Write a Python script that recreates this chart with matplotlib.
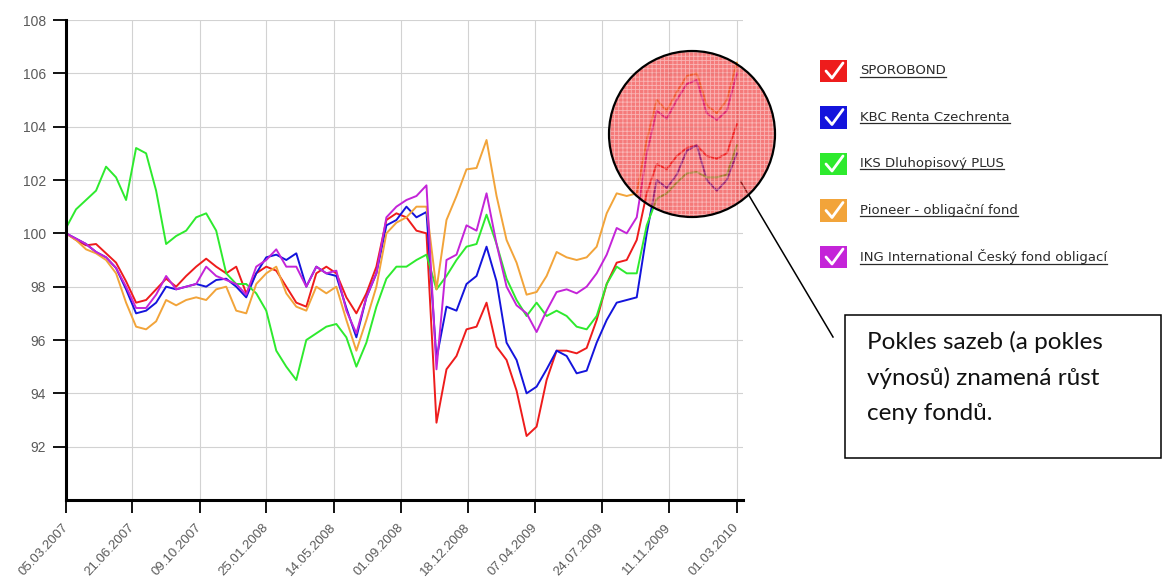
"""
Fund price index chart (5 bond funds) with highlighted circle and a note box
"""

import matplotlib
matplotlib.use("Agg")
import matplotlib.pyplot as plt
import pandas as pd
from matplotlib.patches import Ellipse, Rectangle
from matplotlib.lines import Line2D

# x tick dates as shown on the axis
tick_labels = ["05.03.2007", "21.06.2007", "09.10.2007", "25.01.2008", "14.05.2008",
               "01.09.2008", "18.12.2008", "07.04.2009", "24.07.2009", "11.11.2009",
               "01.03.2010"]

fund_names = ["SPOROBOND", "KBC Renta Czechrenta", "IKS Dluhopisový PLUS",
              "Pioneer - obligační fond", "ING International Český fond obligací"]
fund_colors = ["#ee1c1c", "#1414dc", "#2eea2e", "#f2a43a", "#c424d8"]

sporobond = [100.0, 99.75, 99.55, 99.6, 99.25, 98.9, 98.2, 97.4, 97.5, 97.9,
             98.3, 98.0, 98.4, 98.75, 99.05, 98.75, 98.5, 98.75, 97.75, 98.5,
             98.75, 98.6, 98.0, 97.4, 97.25, 98.5, 98.75, 98.5, 97.6, 97.0,
             97.75, 98.75, 100.5, 100.75, 100.6, 100.1, 100.0, 92.9, 94.9, 95.4,
             96.4, 96.5, 97.4, 95.75, 95.25, 94.1, 92.4, 92.75, 94.5, 95.6,
             95.6, 95.5, 95.7, 96.75, 98.1, 98.9, 99.0, 99.75, 101.5, 102.6,
             102.4, 102.9, 103.2, 103.3, 102.9, 102.8, 103.0, 104.1]
kbc = [100.0, 99.8, 99.6, 99.3, 99.1, 98.7, 97.9, 97.0, 97.1, 97.4,
       98.0, 97.9, 98.0, 98.1, 98.0, 98.25, 98.3, 98.0, 97.6, 98.5,
       99.1, 99.2, 99.0, 99.25, 98.0, 98.75, 98.5, 98.4, 97.2, 96.1,
       97.6, 98.5, 100.3, 100.5, 101.0, 100.6, 100.8, 95.3, 97.25, 97.1,
       98.1, 98.4, 99.5, 98.2, 95.9, 95.25, 94.0, 94.25, 94.9, 95.6,
       95.4, 94.75, 94.85, 95.9, 96.75, 97.4, 97.5, 97.6, 100.0, 102.0,
       101.7, 102.2, 103.1, 103.3, 102.0, 101.6, 102.0, 103.0]
iks = [100.2, 100.9, 101.25, 101.6, 102.5, 102.1, 101.25, 103.2, 103.0, 101.6,
       99.6, 99.9, 100.1, 100.6, 100.75, 100.1, 98.5, 98.1, 98.1, 97.75,
       97.1, 95.6, 95.0, 94.5, 96.0, 96.25, 96.5, 96.6, 96.1, 95.0,
       95.9, 97.25, 98.3, 98.75, 98.75, 99.0, 99.2, 97.9, 98.4, 99.0,
       99.5, 99.6, 100.7, 99.6, 98.3, 97.5, 96.9, 97.4, 96.9, 97.1,
       96.9, 96.5, 96.4, 96.9, 98.1, 98.75, 98.5, 98.5, 100.3, 101.3,
       101.5, 101.9, 102.25, 102.3, 102.1, 102.1, 102.2, 103.3]
pioneer = [100.0, 99.75, 99.4, 99.25, 99.0, 98.5, 97.4, 96.5, 96.4, 96.7,
           97.5, 97.3, 97.5, 97.6, 97.5, 97.9, 98.0, 97.1, 97.0, 98.1,
           98.5, 98.75, 97.75, 97.25, 97.1, 98.0, 97.75, 98.0, 96.75, 95.6,
           96.75, 98.0, 100.0, 100.4, 100.6, 101.0, 101.0, 97.9, 100.5, 101.4,
           102.4, 102.45, 103.5, 101.4, 99.75, 98.9, 97.7, 97.8, 98.4, 99.3,
           99.1, 99.0, 99.1, 99.5, 100.75, 101.5, 101.4, 101.5, 103.5, 105.0,
           104.6, 105.3, 105.9, 106.0, 104.8, 104.5, 105.0, 106.4]
ing = [100.0, 99.8, 99.6, 99.3, 99.1, 98.7, 98.0, 97.2, 97.2, 97.7,
       98.4, 97.9, 98.0, 98.1, 98.75, 98.4, 98.25, 98.1, 97.7, 98.75,
       99.0, 99.4, 98.75, 98.75, 98.0, 98.75, 98.5, 98.6, 97.1, 96.25,
       97.6, 98.5, 100.6, 101.0, 101.25, 101.4, 101.8, 94.9, 99.0, 99.2,
       100.3, 100.1, 101.5, 99.6, 98.0, 97.3, 97.0, 96.3, 97.1, 97.8,
       97.9, 97.75, 98.0, 98.5, 99.2, 100.2, 100.0, 100.6, 103.0, 104.6,
       104.3, 105.0, 105.6, 105.75, 104.5, 104.25, 104.6, 106.0]

note_text = "Pokles sazeb (a pokles\nvýnosů) znamená růst\nceny fondů."

W, H = 1162, 587


def fpos(x, y):
    # pixel position (from top-left) -> figure fraction
    return x / W, 1 - y / H


if __name__ == "__main__":
    plt.rcParams["font.family"] = ["Liberation Sans", "DejaVu Sans"]
    plt.rcParams["hatch.linewidth"] = 0.6

    fig = plt.figure(figsize=(W / 100, H / 100), dpi=100)
    ax = fig.add_axes([66 / W, 1 - 500 / H, (743 - 66) / W, 480 / H])

    dates = pd.date_range("2007-03-05", "2010-03-01", periods=len(sporobond))
    series = [sporobond, kbc, iks, pioneer, ing]
    for vals, c in zip(series, fund_colors):
        ax.plot(dates, vals, color=c, lw=1.4)

    tick_dates = pd.to_datetime(tick_labels, format="%d.%m.%Y")
    ax.set_xticks(tick_dates)
    ax.set_xticklabels(tick_labels, rotation=47, ha="right", va="center",
                       rotation_mode="anchor", color="#5a5a5a", fontsize=9.5)
    ax.set_xlim(tick_dates[0], tick_dates[-1] + pd.Timedelta(days=10))
    ax.set_ylim(90, 108)
    ax.set_yticks(range(92, 109, 2))
    ax.set_yticklabels([str(v) for v in range(92, 109, 2)], color="#5a5a5a", fontsize=10)

    ax.grid(True, color="#d2d2d2", lw=0.8)
    ax.set_axisbelow(True)
    for s in ["top", "right"]:
        ax.spines[s].set_visible(False)
    for s in ["left", "bottom"]:
        ax.spines[s].set_linewidth(2.2)
        ax.spines[s].set_color("black")
    ax.tick_params(axis="both", length=9.5, width=1.3, color="black")
    ax.tick_params(axis="y", pad=5)
    ax.tick_params(axis="x", pad=9)

    # the highlighted circle over the end of the series
    cx, cy = fpos(692, 134)
    fig.add_artist(Ellipse((cx, cy), 166 / W, 166 / H, transform=fig.transFigure,
                           facecolor="#f02828", alpha=0.62, edgecolor="none", zorder=3))
    fig.add_artist(Ellipse((cx, cy), 166 / W, 166 / H, transform=fig.transFigure,
                           facecolor="none", edgecolor="white", hatch="++++",
                           lw=0, alpha=0.45, zorder=3))
    fig.add_artist(Ellipse((cx, cy), 166 / W, 166 / H, transform=fig.transFigure,
                           facecolor="none", edgecolor="black", lw=1.6, zorder=4))

    # pointer line and note box
    x0, y0 = fpos(741, 182)
    x1, y1 = fpos(833, 337)
    fig.add_artist(Line2D([x0, x1], [y0, y1], color="black", lw=1.1))
    bx, by = fpos(845, 458)
    fig.add_artist(Rectangle((bx, by), (1161 - 845) / W, (458 - 315) / H,
                             transform=fig.transFigure, facecolor="white",
                             edgecolor="black", lw=1.1))
    tx, ty = fpos(867, 331)
    fig.text(tx, ty, note_text, fontsize=17.5, family=["Lato", "DejaVu Sans"],
             va="top", ha="left", linespacing=1.78, color="#111111")

    # legend with check boxes and underlined names
    texts = []
    for i, (name, c) in enumerate(zip(fund_names, fund_colors)):
        yc = 71 + 46.5 * i
        rx, ry = fpos(820, yc + 11)
        fig.add_artist(Rectangle((rx, ry), 27 / W, 22 / H, transform=fig.transFigure,
                                 facecolor=c, edgecolor="none"))
        ck = [fpos(826, yc), fpos(832, yc + 7), fpos(843, yc - 8)]
        fig.add_artist(Line2D([p[0] for p in ck], [p[1] for p in ck],
                              color="white", lw=2.0, solid_capstyle="round"))
        lx, ly = fpos(860, yc)
        texts.append(fig.text(lx, ly, name, fontsize=9.5, family=["DejaVu Sans"],
                              color="#2a2a2a", va="center", ha="left"))

    fig.canvas.draw()
    r = fig.canvas.get_renderer()
    for t in texts:
        bb = t.get_window_extent(r)
        yy = (bb.y0 + 1) / H
        fig.add_artist(Line2D([bb.x0 / W, bb.x1 / W], [yy, yy], color="#2a2a2a", lw=0.9))

    fig.savefig("out.png", dpi=100)
